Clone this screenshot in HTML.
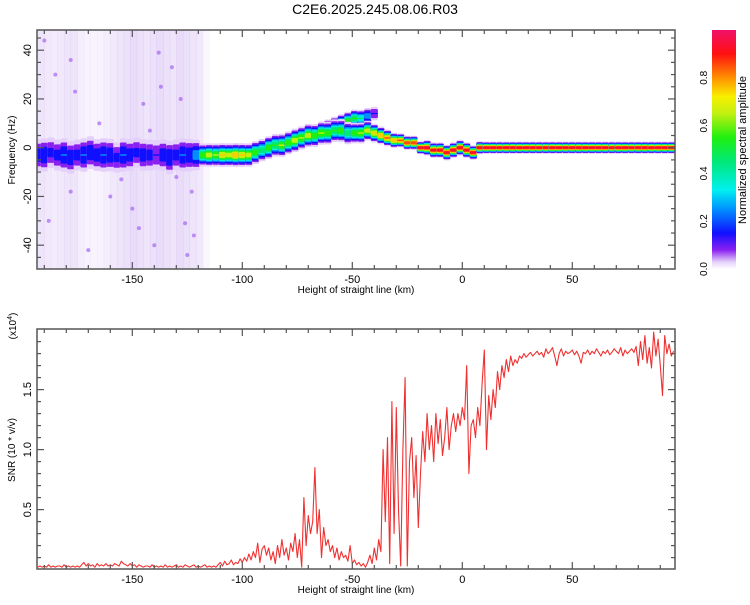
<!DOCTYPE html>
<html><head><meta charset="utf-8"><style>
body{margin:0;background:#fff;}
svg text{font-family:"Liberation Sans",sans-serif;fill:#000;}
</style></head><body>
<svg id="chart" width="750" height="600" xmlns="http://www.w3.org/2000/svg">
<defs>
<clipPath id="clipTop"><rect x="37" y="30" width="638" height="239"/></clipPath>
<clipPath id="clipBot"><rect x="37" y="329" width="638" height="240"/></clipPath>
<linearGradient id="cbar" x1="0" y1="1" x2="0" y2="0">
<stop offset="0" stop-color="#ffffff"/><stop offset="0.03" stop-color="#e4d0fa"/><stop offset="0.08" stop-color="#8a20f0"/>
<stop offset="0.15" stop-color="#1010ff"/><stop offset="0.25" stop-color="#0090ff"/><stop offset="0.33" stop-color="#00f0f0"/>
<stop offset="0.45" stop-color="#00e878"/><stop offset="0.55" stop-color="#20f010"/><stop offset="0.65" stop-color="#c0f010"/>
<stop offset="0.72" stop-color="#f8f000"/><stop offset="0.8" stop-color="#ff9000"/><stop offset="0.9" stop-color="#ff1010"/>
<stop offset="1" stop-color="#f0106a"/></linearGradient>
</defs>
<text x="375" y="14" font-size="14" text-anchor="middle">C2E6.2025.245.08.06.R03</text>
<g id="topPlot" clip-path="url(#clipTop)"></g>
<g id="botPlot" clip-path="url(#clipBot)"></g>
<g id="axes"></g>
<rect x="712" y="30" width="24" height="239" fill="url(#cbar)"/>
<text transform="translate(746,150) rotate(-90)" font-size="11" text-anchor="middle">Normalized spectral amplitude</text>
</svg>
<script>
// ---- data ----
const trackH = [-193,-190,-187,-184,-181,-178,-175,-172,-169,-166,-163,-160,-157,-154,-151,-148,-145,-142,-139,-136,-133,-130,-127,-124,-121,
 -118,-115,-112,-109,-106,-103,-100,-97,-94,
 -91,-88,-85,-82,-79,-76,-73,-70,-67,-64,-61,-58,-55,-52,
 -49,-46,-43,-40,-37,-34,-31,-28,-25,-22,-19,
 -16,-13,-10,-7,-4,-1,2,5,8,11,14,17,20,23,26,29,32,35,38,41,44,47,50,53,56,59,62,65,68,71,74,77,80,83,86,89,92,95];
const trackF = [-3,-3,-2,-3,-3,-4,-3,-3,-2,-3,-3,-3,-4,-3,-3,-2,-3,-3,-3,-3,-4,-3,-3,-3,-3,
 -3,-3,-3,-3,-3,-3,-3,-3,-2,
 -1,0,1,1,2,3,4,5,5,6,6,7,7,6,
 6,6,7,6,5,4,3,3,2,2,0,
 0,-1,-1,-2,-1,0,-1,-2,0,0,0,0,0,0,0,0,0,0,0,0,0,0,0,0,0,0,0,0,0,0,0,0,0,0,0,0,0,0];
const trackAmp = [0.2,0.24,0.17,0.18,0.25,0.22,0.18,0.25,0.22,0.2,0.25,0.22,0.17,0.25,0.2,0.17,0.2,0.18,0.15,0.2,0.24,0.18,0.25,0.22,0.3,
 0.6,0.7,0.65,0.75,0.7,0.8,0.75,0.7,0.6,
 0.5,0.6,0.55,0.65,0.6,0.7,0.65,0.7,0.6,0.65,0.6,0.55,0.6,0.5,
 0.6,0.65,0.7,0.75,0.8,0.85,0.8,0.85,0.9,0.9,0.95,
 0.95,0.94,0.95,0.94,0.95,0.95,0.94,0.95,0.95,0.95,0.95,0.95,0.95,0.95,0.95,0.95,0.95,0.95,0.95,0.95,0.95,0.95,0.95,0.95,0.95,0.95,0.95,0.95,0.95,0.95,0.95,0.95,0.95,0.95,0.95,0.95,0.95,0.95];
const trackWidthHz = [3.2,3.2,3.2,3.2,3.2,3.2,3.2,3.2,3.2,3.2,3.2,3.2,3.2,3.2,3.2,3.2,3.2,3.2,3.2,3.2,3.2,3.2,3.2,3.2,2.8,
 1.8,1.8,1.8,1.8,1.8,1.8,1.8,1.8,1.8,
 1.8,1.8,1.8,1.8,1.8,1.8,1.8,1.8,1.8,1.8,1.8,1.8,1.8,1.8,
 1.6,1.6,1.5,1.4,1.3,1.2,1.1,1.0,1.0,1.0,0.9,
 1.1,1.1,1.1,1.1,1.1,1.1,1.1,1.0,0.9,0.85,0.85,0.85,0.85,0.85,0.85,0.85,0.85,0.85,0.85,0.85,0.85,0.85,0.85,0.85,0.85,0.85,0.85,0.85,0.85,0.85,0.85,0.85,0.85,0.85,0.85,0.85,0.85,0.85];
const branchH = [-64,-61,-58,-55,-52,-49,-46,-43,-40];
const branchF = [7,8,9,10,11,12,12,13,14];
const branchAmp = [0.45,0.5,0.55,0.6,0.6,0.55,0.45,0.3,0.15];
const noiseH = [-193,-190,-187,-184,-181,-178,-175,-172,-169,-166,-163,-160,-157,-154,-151,-148,-145,-142,-139,-136,-133,-130,-127,-124,-121,-118];
const noiseDensity = [0.3,0.25,0.22,0.25,0.3,0.3,0.2,0.15,0.12,0.15,0.2,0.25,0.3,0.35,0.4,0.35,0.3,0.35,0.4,0.35,0.3,0.4,0.35,0.3,0.25,0.1];
const dotH = [-185,-178,-178,-180,-160,-145,-140,-138,-142,-130,-128,-125,-122,-155,-188,-170,-165,-150,-135,-176,-132,-126,-190,-147,-137,-123];
const dotF = [30,36,-18,-6,-20,18,-40,39,7,-12,20,-44,-36,-13,-30,-42,10,-25,-8,23,33,-31,44,-33,25,-18];
const snrStart = -193;
const snr = [0.02,0.03,0.02,0.03,0.02,0.04,0.02,0.03,0.02,0.03,
0.03,0.02,0.04,0.02,0.03,0.02,0.03,0.02,0.03,0.02,
0.04,0.06,0.03,0.05,0.03,0.04,0.02,0.05,0.03,0.04,
0.03,0.05,0.03,0.04,0.03,0.05,0.04,0.03,0.07,0.05,
0.04,0.03,0.05,0.03,0.04,0.02,0.04,0.03,0.02,0.03,
0.03,0.02,0.04,0.02,0.03,0.02,0.03,0.02,0.04,0.02,
0.03,0.02,0.03,0.04,0.02,0.03,0.02,0.04,0.03,0.02,
0.03,0.04,0.02,0.03,0.02,0.03,0.04,0.02,0.03,0.02,
0.03,0.02,0.04,
0.06,0.03,0.07,0.04,0.05,0.08,0.04,0.06,0.05,0.09,
0.06,0.1,0.07,0.13,0.08,0.15,0.1,0.22,0.06,0.17,
0.2,0.12,0.18,0.08,0.15,0.05,0.2,0.1,0.25,0.12,
0.18,0.08,0.22,0.15,0.3,0.1,0.25,0.02,0.6,0.2,
0.45,0.3,0.4,0.85,0.3,0.5,0.1,0.35,0.2,0.25,
0.15,0.2,0.1,0.18,0.08,0.15,0.1,0.12,0.07,0.2,
0.05,0.08,0.04,0.06,0.03,0.05,0.02,0.06,0.12,0.05,
0.18,0.08,0.25,0.15,1.0,0.4,1.1,0.05,1.4,0.3,
1.35,0.5,0.03,1.0,1.6,0.03,0.9,1.1,0.6,0.95,
0.35,0.8,1.15,0.9,1.3,1.0,1.2,0.9,1.3,1.05,
1.25,0.95,1.1,1.35,1.0,1.2,1.3,1.15,1.3,1.2,
1.35,1.25,1.7,0.8,1.2,1.25,1.1,1.35,1.2,1.55,
1.83,1.0,1.45,1.25,1.5,1.35,1.65,1.5,1.7,1.6,
1.75,1.65,1.78,1.7,1.75,1.72,1.78,1.76,1.8,1.77,
1.79,1.81,1.78,1.8,1.82,1.79,1.81,1.77,1.84,1.8,
1.82,1.85,1.78,1.7,1.8,1.84,1.78,1.82,1.8,1.81,
1.83,1.79,1.82,1.78,1.72,1.81,1.8,1.83,1.79,1.82,
1.8,1.84,1.81,1.78,1.82,1.8,1.83,1.79,1.81,1.84,
1.82,1.8,1.85,1.78,1.83,1.8,1.82,1.84,1.81,1.86,
1.7,1.9,1.75,1.95,1.72,1.85,1.68,1.98,1.78,1.92,
1.7,1.45,1.95,1.8,1.88,1.78,1.82];
const xTicks = [-150,-100,-50,0,50];
const yTopTicks = [-40,-20,0,20,40];
const yBotTicks = [0.5,1.0,1.5];
const cbTicks = [0.0,0.2,0.4,0.6,0.8];

// ---- scales ----
const NS='http://www.w3.org/2000/svg';
const xs = h => 462.3 + h*2.2;
const yt = f => 147.7 - f*2.4375;
const yb = v => 569.6 - v*120;
const yc = v => 269 - v*239;
function mk(tag, attrs, parent){const e=document.createElementNS(NS,tag);for(const k in attrs)e.setAttribute(k,attrs[k]);parent.appendChild(e);return e;}
const stops=[[0,[255,255,255]],[0.03,[228,208,250]],[0.08,[138,32,240]],[0.15,[16,16,255]],[0.25,[0,144,255]],[0.33,[0,240,240]],[0.45,[0,232,120]],[0.55,[32,240,16]],[0.65,[192,240,16]],[0.72,[248,240,0]],[0.8,[255,144,0]],[0.9,[255,16,16]],[1,[240,16,106]]];
function cmap(v){for(let i=1;i<stops.length;i++){if(v<=stops[i][0]){const a=stops[i-1],b=stops[i];const t=(v-a[0])/(b[0]-a[0]);const c=a[1].map((x,j)=>Math.round(x+(b[1][j]-x)*t));return `rgb(${c[0]},${c[1]},${c[2]})`;}}return 'rgb(240,16,106)';}

const topG=document.getElementById('topPlot');
const botG=document.getElementById('botPlot');
const ax=document.getElementById('axes');

noiseH.forEach((h,i)=>{
  const r=mk('rect',{x:xs(h),y:30,width:3*2.2+0.5,height:239,fill:'#c8a8f0','fill-opacity':noiseDensity[i]},topG);
  
  
});
dotH.forEach((h,i)=>{
  const c=mk('circle',{cx:xs(h),cy:yt(dotF[i]),r:2,fill:'#9a50f0','fill-opacity':0.6},topG);
  
  
});

const levels=[0.03,0.08,0.15,0.25,0.35,0.45,0.55,0.65,0.75,0.85,0.93];
function drawCell(h,f,amp,sig,w){
  levels.forEach(L=>{
    if(amp<L) return;
    const d=sig*Math.sqrt(2*Math.log(amp/L))+0.3;
    const r=mk('rect',{x:xs(h)-w/2,y:yt(f+d),width:w,height:yt(f-d)-yt(f+d),fill:cmap(L),rx:1.5},topG);
    
    
  });
}
branchH.forEach((h,i)=>drawCell(h,branchF[i],branchAmp[i],1.4,7.2));
trackH.forEach((h,i)=>drawCell(h,trackF[i],trackAmp[i],trackWidthHz[i],7.2));

let d='';
snr.forEach((v,i)=>{d+=(i?'L':'M')+xs(snrStart+i).toFixed(1)+','+yb(v).toFixed(1);});
const line=mk('path',{d:d,fill:'none',stroke:'#f03030','stroke-width':1.1,'stroke-linejoin':'round'},botG);



function frame(y0,y1,name){
  const r=mk('rect',{x:37,y:y0,width:638,height:y1-y0,fill:'none',stroke:'#555','stroke-width':1.5},ax);
  
  
  for(let h=-190;h<=90;h+=10){
    const big=h%50===0, L=big?7:4;
    mk('line',{x1:xs(h),x2:xs(h),y1:y1,y2:y1-L,stroke:'#555','stroke-width':1.2},ax);
    mk('line',{x1:xs(h),x2:xs(h),y1:y0,y2:y0+L,stroke:'#555','stroke-width':1.2},ax);
  }
  xTicks.forEach(t=>{
    const tx=mk('text',{x:xs(t),y:y1+14,'font-size':11,'text-anchor':'middle'},ax);
    tx.textContent=String(t);
    
    
  });
  const xl=mk('text',{x:356,y:y1+24,'font-size':10,'text-anchor':'middle'},ax);
  xl.textContent='Height of straight line (km)';
  
  
}
frame(30,269,'spectrogram-frame');
frame(329,569,'snr-frame');
for(let f=-45;f<=45;f+=5){
  const big=f%20===0, L=big?7:4;
  mk('line',{x1:37,x2:37+L,y1:yt(f),y2:yt(f),stroke:'#555','stroke-width':1.2},ax);
  mk('line',{x1:675,x2:675-L,y1:yt(f),y2:yt(f),stroke:'#555','stroke-width':1.2},ax);
}
yTopTicks.forEach(t=>{
  const tx=mk('text',{transform:`translate(31,${yt(t)}) rotate(-90)`,'font-size':11,'text-anchor':'middle'},ax);
  tx.textContent=String(t);
  
  
});
for(let v=0.1;v<2.0;v+=0.1){
  const big=Math.abs(v*2-Math.round(v*2))<1e-6, L=big?7:4;
  mk('line',{x1:37,x2:37+L,y1:yb(v),y2:yb(v),stroke:'#555','stroke-width':1.2},ax);
  mk('line',{x1:675,x2:675-L,y1:yb(v),y2:yb(v),stroke:'#555','stroke-width':1.2},ax);
}
yBotTicks.forEach(t=>{
  const tx=mk('text',{transform:`translate(31,${yb(t)}) rotate(-90)`,'font-size':11,'text-anchor':'middle'},ax);
  tx.textContent=t.toFixed(1);
  
  
});
cbTicks.forEach(t=>{
  const tx=mk('text',{transform:`translate(707,${yc(t)}) rotate(-90)`,'font-size':10,'text-anchor':'middle'},ax);
  tx.textContent=t.toFixed(1);
  
  
});
const yl1=mk('text',{transform:'translate(15,150) rotate(-90)','font-size':10,'text-anchor':'middle'},ax);
yl1.textContent='Frequency (Hz)';


const yl2=mk('text',{transform:'translate(15,450) rotate(-90)','font-size':10,'text-anchor':'middle'},ax);
yl2.textContent='SNR (10 * v/v)';


const sc=mk('text',{transform:'translate(16,326) rotate(-90)','font-size':10,'text-anchor':'middle'},ax);
sc.innerHTML='(x10<tspan font-size="7" dy="-4">4</tspan><tspan dy="4">)</tspan>';


</script>
</body></html>
